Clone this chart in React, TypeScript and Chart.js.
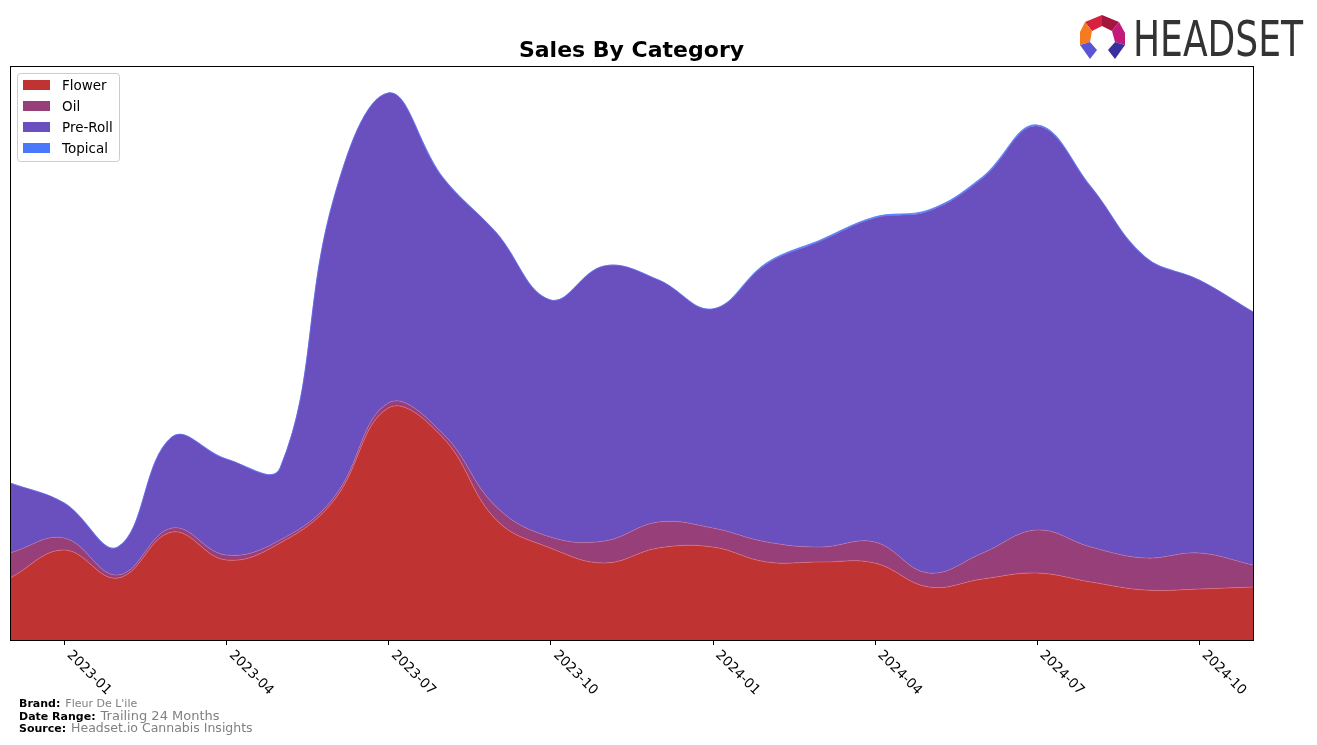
import React, { useEffect, useRef } from "react";
import { Chart, registerables } from "chart.js";
Chart.register(...registerables);

const months = [
  "2022-12", "2023-01", "2023-02", "2023-03", "2023-04", "2023-05", "2023-06", "2023-07",
  "2023-08", "2023-09", "2023-10", "2023-11", "2023-12", "2024-01", "2024-02", "2024-03",
  "2024-04", "2024-05", "2024-06", "2024-07", "2024-08", "2024-09", "2024-10", "2024-11",
];
const tickLabels = ["2023-01", "2023-04", "2023-07", "2023-10", "2024-01", "2024-04", "2024-07", "2024-10"];

const flower = [62, 90, 62, 108, 80, 97, 140, 232, 203, 120, 92, 77, 92, 93, 78, 78, 77, 53, 61, 67, 58, 50, 51, 53];
const oil = [25, 12, 3, 4, 5, 3, 3, 5, 4, 13, 11, 22, 26, 19, 20, 15, 21, 14, 26, 43, 35, 32, 36, 22];
const preRoll = [70, 35, 28, 91, 96, 72, 300, 310, 256, 274, 237, 275, 242, 219, 278, 306, 324, 362, 375, 404, 360, 301, 273, 253];
const topical = [0, 0, 0, 0, 0, 0, 0, 0, 0, 0, 0, 0, 0, 0, 1, 1, 1, 1, 1, 1, 0, 0, 0, 0];

const seriesNames = ["Flower", "Oil", "Pre-Roll", "Topical"];
const seriesColors = ["#c03333", "#973f78", "#6a4fbe", "#4a78fa"];
const edgeColors = ["rgba(230,120,140,0.9)", "rgba(200,120,170,0.9)", "rgba(120,110,230,0.9)", "rgba(90,140,255,1)"];

const FONT = "'DejaVu Sans', sans-serif";

const overlayPlugin = {
  id: "overlay",
  afterDraw(chart: any) {
    const ctx = chart.ctx as CanvasRenderingContext2D;
    const { left, right, top, bottom } = chart.chartArea;
    const xs = chart.scales.x;
    ctx.save();
    // frame
    ctx.strokeStyle = "#000";
    ctx.lineWidth = 1;
    ctx.strokeRect(Math.round(left) + 0.5, Math.round(top) + 0.5, Math.round(right - left), Math.round(bottom - top));
    // ticks + labels
    ctx.fillStyle = "#000";
    ctx.font = `13.5px ${FONT}`;
    tickLabels.forEach((lab) => {
      const idx = months.indexOf(lab);
      const px = xs.getPixelForValue(idx);
      ctx.beginPath();
      ctx.moveTo(Math.round(px) + 0.5, bottom);
      ctx.lineTo(Math.round(px) + 0.5, bottom + 5);
      ctx.stroke();
      ctx.save();
      ctx.translate(px + 5, bottom + 13);
      ctx.rotate(Math.PI / 4);
      ctx.textAlign = "left";
      ctx.textBaseline = "middle";
      ctx.fillText(lab, 0, 0);
      ctx.restore();
    });
    // title
    ctx.font = `bold 22px ${FONT}`;
    ctx.textAlign = "center";
    ctx.textBaseline = "middle";
    ctx.fillText("Sales By Category", (left + right) / 2, 51);
    // legend
    const lx = 17, ly = 73, lw = 102, lh = 88;
    ctx.fillStyle = "rgba(255,255,255,0.85)";
    ctx.strokeStyle = "#cccccc";
    ctx.beginPath();
    (ctx as any).roundRect(lx + 0.5, ly + 0.5, lw, lh, 3);
    ctx.fill();
    ctx.stroke();
    ctx.font = `13.5px ${FONT}`;
    ctx.textAlign = "left";
    ctx.textBaseline = "middle";
    seriesNames.forEach((n, i) => {
      const cy = 85 + i * 21;
      ctx.fillStyle = seriesColors[i];
      ctx.fillRect(23, cy - 5, 27, 10);
      ctx.fillStyle = "#000";
      ctx.fillText(n, 62, cy + 1);
    });
    // footer
    const footer = [
      ["Brand:", "Fleur De L'ile", 11, 704],
      ["Date Range:", "Trailing 24 Months", 13, 717],
      ["Source:", "Headset.io Cannabis Insights", 12.5, 729],
    ] as [string, string, number, number][];
    footer.forEach(([b, t, sz, y]) => {
      ctx.font = `bold 11px ${FONT}`;
      ctx.fillStyle = "#000";
      ctx.textBaseline = "middle";
      ctx.fillText(b, 19, y);
      const w = ctx.measureText(b).width;
      ctx.font = `${sz}px ${FONT}`;
      ctx.fillStyle = "#808080";
      ctx.fillText(t, 19 + w + 5, y);
    });
    ctx.restore();
  },
};

function Logo() {
  return (
    <svg width={240} height={60} style={{ position: "absolute", left: 1075, top: 8 }} viewBox="1075 8 240 60">
      <polygon points="1085,22 1102,15 1102,26 1092,31" fill="#d8213f" />
      <polygon points="1102,15 1119,22 1112,31 1102,26" fill="#a3173c" />
      <polygon points="1085,22 1092,31 1090,42 1080,45 1080,32" fill="#f47b20" />
      <polygon points="1119,22 1125,33 1125,45 1115,42 1112,31" fill="#c2197b" />
      <polygon points="1080,45 1090,42 1097,50 1090,59" fill="#5b55d6" />
      <polygon points="1125,45 1115,42 1108,50 1115,59" fill="#3a2f9e" />
      <text x={1133} y={56} fontFamily="'DejaVu Sans Condensed', 'Liberation Sans Narrow', sans-serif" fontSize={50}
        fill="#333333" textLength={170} lengthAdjust="spacingAndGlyphs">HEADSET</text>
    </svg>
  );
}

export default function App() {
  const ref = useRef<HTMLCanvasElement | null>(null);
  useEffect(() => {
    if (!ref.current) return;
    const data = [flower, oil, preRoll, topical];
    const chart = new Chart(ref.current, {
      type: "line",
      data: {
        labels: months,
        datasets: seriesNames.map((n, i) => ({
          label: n,
          data: data[i],
          backgroundColor: seriesColors[i],
          borderColor: edgeColors[i],
          borderWidth: i === 3 ? 1.2 : 0.6,
          fill: i === 0 ? "origin" : "-1",
          pointRadius: 0,
          tension: 0.4,
        })),
      },
      options: {
        responsive: false,
        animation: false,
        layout: { padding: { left: 10, top: 66, right: 64, bottom: 105 } },
        plugins: { legend: { display: false }, title: { display: false }, tooltip: { enabled: false } },
        scales: {
          x: { display: false, offset: false },
          y: { display: false, stacked: true, min: 0, max: 574 },
        },
      },
      plugins: [overlayPlugin],
    });
    return () => chart.destroy();
  }, []);
  return (
    <div style={{ position: "absolute", left: 0, top: 0, width: 1317, height: 745, background: "#fff" }}>
      <canvas ref={ref} width={1317} height={745} style={{ position: "absolute", left: 0, top: 0 }} />
      <Logo />
    </div>
  );
}
